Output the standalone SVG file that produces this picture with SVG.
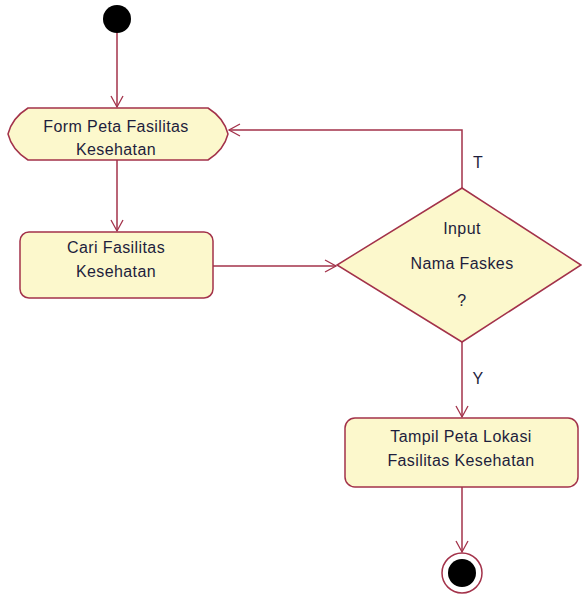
<svg xmlns="http://www.w3.org/2000/svg" width="582" height="597" viewBox="0 0 582 597">
<defs>
<style>
.node{fill:#fcf8cc;stroke:#a3324a;stroke-width:1.5}
.edge{fill:none;stroke:#a3324a;stroke-width:1.5}
.t{font-family:"Liberation Sans",Arial,sans-serif;font-size:16px;letter-spacing:0.4px;fill:#1e1e3c;text-anchor:middle}
</style>
<marker id="arr" markerWidth="14" markerHeight="14" refX="12" refY="7" orient="auto" markerUnits="userSpaceOnUse">
<path d="M1,1 L12,7 L1,13" fill="none" stroke="#a3324a" stroke-width="1.3"/>
</marker>
</defs>
<rect width="582" height="597" fill="#ffffff"/>
<g id="connectors">
<line class="edge" x1="117" y1="32" x2="117" y2="107" marker-end="url(#arr)"/>
<line class="edge" x1="117" y1="160" x2="117" y2="231" marker-end="url(#arr)"/>
<line class="edge" x1="213" y1="266" x2="336" y2="266" marker-end="url(#arr)"/>
<polyline class="edge" points="462,188 462,130 229,130" marker-end="url(#arr)"/>
<line class="edge" x1="462" y1="342" x2="462" y2="417" marker-end="url(#arr)"/>
<line class="edge" x1="462" y1="487" x2="462" y2="552" marker-end="url(#arr)"/>
<text class="t" x="478" y="168">T</text>
<text class="t" x="478" y="384">Y</text>
</g>
<g id="start">
<circle cx="117" cy="19" r="14" fill="#000000"/>
</g>
<g id="form">
<path class="node" d="M28,108 L208,108 Q224,118 228,134 Q224,150 208,160 L28,160 Q12,150 8,134 Q12,118 28,108 Z"/>
<text class="t" x="116" y="132">Form Peta Fasilitas</text>
<text class="t" x="116" y="155">Kesehatan</text>
</g>
<g id="cari">
<rect class="node" x="20" y="232" width="193" height="66" rx="9"/>
<text class="t" x="116" y="253">Cari Fasilitas</text>
<text class="t" x="116" y="277">Kesehatan</text>
</g>
<g id="decision">
<polygon class="node" points="462,188 581,265 462,342 337,265"/>
<text class="t" x="462" y="234">Input</text>
<text class="t" x="462" y="269">Nama Faskes</text>
<text class="t" x="462" y="306">?</text>
</g>
<g id="tampil">
<rect class="node" x="345" y="418" width="233" height="69" rx="10"/>
<text class="t" x="461" y="442">Tampil Peta Lokasi</text>
<text class="t" x="461" y="466">Fasilitas Kesehatan</text>
</g>
<g id="end">
<circle cx="462" cy="573" r="20" fill="#ffffff" stroke="#a3324a" stroke-width="1.5"/>
<circle cx="462" cy="573" r="14" fill="#000000"/>
</g>
</svg>
